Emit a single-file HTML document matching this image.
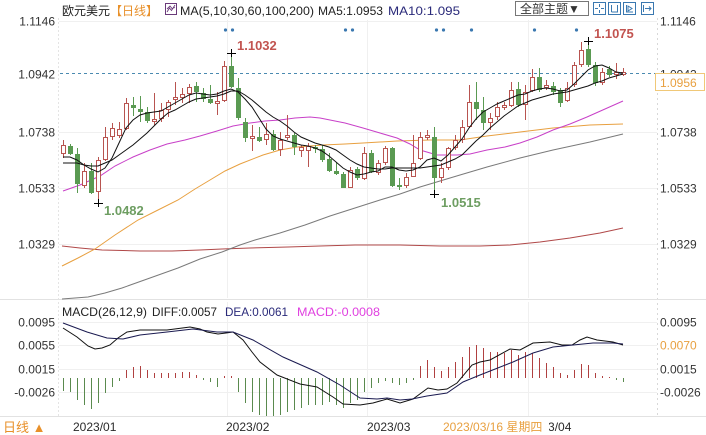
<!DOCTYPE html>
<html><head><meta charset="utf-8"><style>
html,body{margin:0;padding:0;background:#fff;width:706px;height:435px;overflow:hidden}
svg{display:block}
text{font-family:"Liberation Sans","Noto Sans CJK SC",sans-serif;font-size:12px}
</style></head><body>
<svg width="706" height="435" viewBox="0 0 706 435" xmlns="http://www.w3.org/2000/svg">
<rect width="706" height="435" fill="#fff"/>
<!-- grid -->
<g stroke="#f0f0f0" stroke-width="1">
<path d="M59 21.5H657M59 132.5H657M59 188.5H657M59 244.5H657"/>
<path d="M227.5 20V298M367.5 20V298M528.5 20V298M227.5 302V416M367.5 302V416M528.5 302V416"/>
<path d="M59 322.5H657M59 345.5H657M59 369.5H657M59 392.5H657"/>
</g>
<path d="M58.5 18V416" stroke="#e4e4e4" stroke-dasharray="2,2"/>
<path d="M657.5 18V416" stroke="#d8d8d8" stroke-dasharray="2,3"/>
<path d="M0 299.5H706M0 416.5H706" stroke="#e2e2e2"/>
<!-- header -->
<text x="62" y="15" fill="#222">欧元美元</text>
<text x="110" y="15" fill="#e8902a">【日线】</text>
<rect x="165.5" y="3.5" width="11" height="11" fill="#fff" stroke="#6a3a7a"/>
<path d="M167 12L169.5 8L171.5 10.5L175 5M167 9L170 6L172 8.5L175 7.5" stroke="#6a3a7a" fill="none" stroke-width="0.9"/>
<text x="180" y="15" fill="#222" textLength="134" lengthAdjust="spacingAndGlyphs">MA(5,10,30,60,100,200)</text>
<text x="318" y="15" fill="#222" textLength="65" lengthAdjust="spacingAndGlyphs">MA5:1.0953</text>
<text x="388" y="15" fill="#2a2a7a" textLength="72" lengthAdjust="spacingAndGlyphs">MA10:1.095</text>
<!-- top right controls -->
<rect x="515.5" y="1.5" width="73" height="14" fill="#fff" stroke="#777"/>
<text x="520" y="13" fill="#333">全部主题▼</text>
<g stroke="#3a78b0" fill="none">
<rect x="593.5" y="2.5" width="12" height="12"/>
<path d="M599.5 4V7M599.5 10V13M595 8.5H598M601 8.5H604" />
<rect x="608.5" y="2.5" width="12" height="12"/>
<path d="M611.5 5V12M617.5 5V12M611.5 12H618" />
<rect x="623.5" y="2.5" width="12" height="12"/>
<path d="M626.5 5V12H633M628 6L632 8.5L628 11Z" />
<rect x="641.5" y="2.5" width="12" height="12"/>
<path d="M643.5 5V12M645 8.5H651M649 6.5L651 8.5L649 10.5" />
</g>
<!-- y labels main -->
<g fill="#333" text-anchor="end">
<text x="55" y="25.5">1.1146</text>
<text x="55" y="78.5">1.0942</text>
<text x="55" y="136.5">1.0738</text>
<text x="55" y="192.5">1.0533</text>
<text x="55" y="248.5">1.0329</text>
</g>
<g fill="#333">
<text x="660" y="25.5">1.1146</text>
<text x="660" y="78.5">1.0942</text>
<text x="660" y="136.5">1.0738</text>
<text x="660" y="192.5">1.0533</text>
<text x="660" y="248.5">1.0329</text>
</g>
<!-- current price line -->
<path d="M60 73.5H656" stroke="#4a8ab0" stroke-dasharray="3,3"/>
<rect x="655.5" y="73.5" width="49" height="17" fill="#fff" stroke="#f0c878"/>
<text x="660" y="87" fill="#e8a040">1.0956</text>
<!-- blue dots -->
<g fill="#3a78b0">
<circle cx="225.5" cy="30" r="1.6"/><circle cx="232.5" cy="30" r="1.6"/>
<circle cx="345.5" cy="30" r="1.6"/><circle cx="352.5" cy="30" r="1.6"/>
<circle cx="436.5" cy="30" r="1.6"/><circle cx="443.5" cy="30" r="1.6"/>
<circle cx="471.5" cy="30" r="1.6"/><circle cx="534.5" cy="30" r="1.6"/><circle cx="576.5" cy="30" r="1.6"/>
</g>
<!-- long MAs -->
<g fill="none" stroke-width="1">
<polyline stroke="#b04848" points="62,246 80,248 102,250 140,251 172,251 200,250 222,249 250,248 288,247 320,246 355,245 400,245 440,246 480,246 510,245 540,242 570,238 600,233 623,228"/>
<polyline stroke="#7a7a7a" points="62,299 88,297 105,293 122,288 150,278 178,268 200,259 222,252 240,245 255,240 280,233 305,225 330,216 355,208 380,200 400,194 420,187 440,181 460,175 487,167 520,158 553,150 590,142 623,134"/>
<polyline stroke="#e8a040" points="62,266 78,258 95,249 115,235 138,220 158,210 178,200 195,189 210,180 225,171 240,164 263,155 280,150 297,147 323,145 345,144 363,143 397,141 430,140 460,140 487,136 520,132 553,128 590,125 623,124"/>
<polyline stroke="#c840c8" points="63,191 80,185 100,176 115,166 133,157 150,150 167,144 185,140 200,136 217,131 233,126 250,123 265,121 280,120 295,118 310,117 320,118 330,120 345,123 363,128 380,133 397,138 410,144 420,150 437,155 457,155 470,154 487,150 505,147 520,143 537,137 553,130 570,124 587,117 605,109 623,101"/>
</g>
<!-- candles: up -->
<path fill="none" stroke="#b85450" d="M63.5 140V158M84.5 163V188M98.5 157V203M105.5 127V161M112.5 123V140M119.5 122V138M126.5 98V130M154.5 93V125M161.5 103V122M168.5 100V117M175.5 82V105M182.5 88V103M189.5 84V103M217.5 92V115M224.5 61V102M252.5 125V151M266.5 123V145M280.5 132V156M287.5 115V140M301.5 145V157M308.5 143V167M350.5 167V188M364.5 147V180M378.5 160V175M385.5 146V165M406.5 173V188M413.5 135V177M420.5 132V160M427.5 130V140M441.5 163V183M448.5 147V170M455.5 135V150M462.5 120V143M469.5 85V128M490.5 113V130M497.5 102V120M504.5 102V110M511.5 82V107M525.5 85V120M532.5 69V92M546.5 80V90M567.5 82V102M574.5 62V87M581.5 42V67M602.5 68V85M616.5 63V79M623.5 68V76"/>
<g fill="#fff" stroke="#b85450">
<rect x="61.5" y="145.5" width="4" height="8"/><rect x="82.5" y="171.5" width="4" height="14"/><rect x="96.5" y="160.5" width="4" height="31"/><rect x="103.5" y="137.5" width="4" height="22"/><rect x="110.5" y="128.5" width="4" height="8"/><rect x="117.5" y="129.5" width="4" height="6"/><rect x="124.5" y="103.5" width="4" height="25"/><rect x="152.5" y="119.5" width="4" height="2"/><rect x="159.5" y="110.5" width="4" height="8"/><rect x="166.5" y="102.5" width="4" height="7"/><rect x="173.5" y="97.5" width="4" height="2"/><rect x="180.5" y="94.5" width="4" height="3"/><rect x="187.5" y="87.5" width="4" height="6"/><rect x="215.5" y="101.5" width="4" height="2"/><rect x="222.5" y="66.5" width="4" height="34"/><rect x="250.5" y="136.5" width="4" height="2"/><rect x="264.5" y="134.5" width="4" height="5"/><rect x="278.5" y="140.5" width="4" height="9"/><rect x="285.5" y="135.5" width="4" height="2"/><rect x="299.5" y="147.5" width="4" height="3"/><rect x="306.5" y="146.5" width="4" height="4"/><rect x="348.5" y="170.5" width="4" height="17"/><rect x="362.5" y="153.5" width="4" height="25"/><rect x="376.5" y="163.5" width="4" height="9"/><rect x="383.5" y="148.5" width="4" height="14"/><rect x="404.5" y="177.5" width="4" height="8"/><rect x="411.5" y="163.5" width="4" height="13"/><rect x="418.5" y="137.5" width="4" height="21"/><rect x="425.5" y="135.5" width="4" height="2"/><rect x="439.5" y="168.5" width="4" height="9"/><rect x="446.5" y="148.5" width="4" height="19"/><rect x="453.5" y="140.5" width="4" height="7"/><rect x="460.5" y="127.5" width="4" height="12"/><rect x="467.5" y="102.5" width="4" height="24"/><rect x="488.5" y="118.5" width="4" height="4"/><rect x="495.5" y="107.5" width="4" height="9"/><rect x="502.5" y="105.5" width="4" height="2"/><rect x="509.5" y="90.5" width="4" height="15"/><rect x="523.5" y="92.5" width="4" height="12"/><rect x="530.5" y="77.5" width="4" height="13"/><rect x="544.5" y="85.5" width="4" height="2"/><rect x="565.5" y="88.5" width="4" height="12"/><rect x="572.5" y="65.5" width="4" height="19"/><rect x="579.5" y="50.5" width="4" height="14"/><rect x="600.5" y="72.5" width="4" height="10"/><rect x="614.5" y="72.5" width="4" height="2"/><rect x="621.5" y="72.5" width="4" height="2"/>
</g>
<!-- candles: down -->
<path fill="none" stroke="#5a9a52" d="M70.5 144V155M77.5 148V193M91.5 163V194M133.5 97V116M140.5 96V122M147.5 107V123M196.5 82V102M203.5 88V102M210.5 85V104M231.5 53V88M238.5 78V120M245.5 118V142M259.5 127V142M273.5 130V151M294.5 133V155M315.5 145V153M322.5 145V162M329.5 153V172M336.5 162V175M343.5 172V188M357.5 167V180M371.5 150V173M392.5 147V187M399.5 178V190M434.5 127V194M476.5 82V120M483.5 97V130M518.5 82V107M539.5 68V92M553.5 82V95M560.5 88V107M588.5 41V67M595.5 62V86M609.5 66V77"/>
<g fill="#5a9a52">
<rect x="68" y="146" width="5" height="8"/><rect x="75" y="154" width="5" height="30"/><rect x="89" y="171" width="5" height="22"/><rect x="131" y="105" width="5" height="3"/><rect x="138" y="109" width="5" height="3"/><rect x="145" y="112" width="5" height="9"/><rect x="194" y="86" width="5" height="6"/><rect x="201" y="93" width="5" height="6"/><rect x="208" y="99" width="5" height="4"/><rect x="229" y="66" width="5" height="21"/><rect x="236" y="88" width="5" height="30"/><rect x="243" y="122" width="5" height="16"/><rect x="257" y="137" width="5" height="4"/><rect x="271" y="134" width="5" height="16"/><rect x="292" y="135" width="5" height="12"/><rect x="313" y="147" width="5" height="2"/><rect x="320" y="149" width="5" height="11"/><rect x="327" y="159" width="5" height="12"/><rect x="334" y="171" width="5" height="3"/><rect x="341" y="174" width="5" height="14"/><rect x="355" y="169" width="5" height="9"/><rect x="369" y="153" width="5" height="19"/><rect x="390" y="148" width="5" height="38"/><rect x="397" y="185" width="5" height="2"/><rect x="432" y="137" width="5" height="41"/><rect x="474" y="102" width="5" height="7"/><rect x="481" y="110" width="5" height="13"/><rect x="516" y="89" width="5" height="16"/><rect x="537" y="77" width="5" height="13"/><rect x="551" y="86" width="5" height="6"/><rect x="558" y="90" width="5" height="13"/><rect x="586" y="49" width="5" height="16"/><rect x="593" y="65" width="5" height="18"/><rect x="607" y="69" width="5" height="6"/>
</g>
<!-- MA5 / MA10 -->
<g fill="none" stroke="#111" stroke-width="1">
<polyline points="63,157 70,157 77,160 84,165 91,169 98,172 105,168 112,158 119,143 126,128 133,120 140,115 147,113 154,112 161,111 168,107 175,103 182,99 189,95 196,93 203,94 210,95 217,94 224,91 231,89 238,92 245,99 252,107 259,118 266,129 273,136 280,139 287,141 294,143 301,145 308,146 315,148 322,151 329,156 336,162 343,168 350,172 357,175 364,174 371,172 378,171 385,167 392,167 399,170 406,171 413,170 420,167 427,160 434,158 441,161 448,155 455,147 462,139 469,128 476,119 483,112 490,108 497,104 504,101 511,98 518,95 525,94 532,91 539,89 546,88 553,89 560,91 567,90 574,84 581,77 588,70 595,66 602,65 609,68 616,72 623,73"/>
<polyline points="63,163 70,163 77,163 84,165 91,166 98,166 105,163 112,160 119,155 126,150 133,145 140,139 147,133 154,126 161,119 168,113 175,110 182,106 189,102 196,99 203,98 210,97 217,96 224,94 231,91 238,91 245,95 252,100 259,106 266,112 273,117 280,121 287,126 294,132 301,137 308,140 315,143 322,145 329,147 336,150 343,155 350,160 357,164 364,167 371,168 378,169 385,169 392,168 399,168 406,168 413,168 420,168 427,167 434,166 441,165 448,162 455,159 462,155 469,148 476,141 483,135 490,128 497,122 504,116 511,111 518,106 525,103 532,100 539,98 546,96 553,94 560,93 567,92 574,90 581,88 588,86 595,83 602,81 609,78 616,76 623,74"/>
</g>
<!-- extreme markers -->
<path stroke="#000" fill="none" d="M94 203.5H103M98.5 199V207M227 53.5H236M231.5 49V57M584 41.5H593M588.5 37V45M430 194.5H439M434.5 190V198"/>
<g font-weight="bold" font-size="13">
<text x="237" y="50" fill="#c25450" style="font-size:13px">1.1032</text>
<text x="594" y="38" fill="#c25450" style="font-size:13px">1.1075</text>
<text x="104" y="215" fill="#6e9e62" style="font-size:13px">1.0482</text>
<text x="441" y="207" fill="#6e9e62" style="font-size:13px">1.0515</text>
</g>
<!-- MACD panel -->
<text x="62" y="316" fill="#222" textLength="85" lengthAdjust="spacingAndGlyphs">MACD(26,12,9)</text>
<text x="152" y="316" fill="#222" textLength="65" lengthAdjust="spacingAndGlyphs">DIFF:0.0057</text>
<text x="225" y="316" fill="#2a2a7a" textLength="63" lengthAdjust="spacingAndGlyphs">DEA:0.0061</text>
<text x="297" y="316" fill="#e040e0" textLength="83" lengthAdjust="spacingAndGlyphs">MACD:-0.0008</text>
<g fill="#333" text-anchor="end">
<text x="55" y="326.5">0.0095</text>
<text x="55" y="349.5">0.0055</text>
<text x="55" y="373.5">0.0015</text>
<text x="55" y="396.5">-0.0026</text>
</g>
<g fill="#333">
<text x="660" y="326.5">0.0095</text>
<text x="660" y="349.5" fill="#e8a040">0.0070</text>
<text x="660" y="373.5">0.0015</text>
<text x="660" y="396.5">-0.0026</text>
</g>
<path fill="none" stroke="#b04040" d="M126.5 378V370M133.5 378V367M140.5 378V366M147.5 378V370M154.5 378V373M161.5 378V373M168.5 378V373M175.5 378V373M182.5 378V372M189.5 378V372M196.5 378V375M224.5 378V376M231.5 378V376M420.5 378V366M427.5 378V360M434.5 378V367M441.5 378V371M448.5 378V367M455.5 378V362M462.5 378V357M469.5 378V347M476.5 378V345M483.5 378V348M490.5 378V352M497.5 378V352M504.5 378V353M511.5 378V350M518.5 378V355M525.5 378V352M532.5 378V353M539.5 378V358M546.5 378V363M553.5 378V367M560.5 378V373M567.5 378V375M574.5 378V370M581.5 378V364M588.5 378V365M595.5 378V373M602.5 378V376M609.5 378V377"/>
<path fill="none" stroke="#5a8a4e" d="M63.5 378V391M70.5 378V392M77.5 378V400M84.5 378V405M91.5 378V409M98.5 378V403M105.5 378V393M112.5 378V387M119.5 378V381M203.5 378V380M210.5 378V382M217.5 378V387M238.5 378V392M245.5 378V403M252.5 378V412M259.5 378V415M266.5 378V416M273.5 378V416M280.5 378V415M287.5 378V412M294.5 378V410M301.5 378V408M308.5 378V405M315.5 378V405M322.5 378V405M329.5 378V402M336.5 378V405M343.5 378V408M350.5 378V403M357.5 378V400M364.5 378V392M371.5 378V388M378.5 378V383M385.5 378V381M392.5 378V383M399.5 378V385M406.5 378V383M413.5 378V380M616.5 378V380M623.5 378V382"/>
<g fill="none" stroke-width="1">
<polyline stroke="#111" points="63,328 77,337 88,346 95,349 102,348 110,345 118,338 127,332 140,330 167,330 190,327 200,329 207,332 218,334 226,333 233,332 243,340 252,352 260,362 277,375 300,384 317,387 333,397 343,404 360,405 373,403 387,399 400,403 413,399 428,388 438,390 447,389 457,383 472,365 480,362 490,360 510,349 520,350 533,343 550,342 562,345 572,345 580,340 587,337 597,340 613,342 623,345"/>
<polyline stroke="#1a1a50" points="63,323 87,332 107,338 123,339 140,335 167,332 193,329 217,332 233,332 253,340 283,357 317,372 340,385 360,398 377,399 387,398 400,400 412,399 427,396 447,393 463,382 480,375 513,362 533,353 553,347 573,345 593,343 613,343 623,344"/>
</g>
<!-- x axis -->
<g fill="#2a2a2a">
<text x="73" y="431">2023/01</text>
<text x="226" y="431">2023/02</text>
<text x="367" y="431">2023/03</text>
<text x="528" y="431">2023/04</text>
</g>
<rect x="441" y="419" width="108" height="15" fill="#fff"/>
<text x="443" y="431" fill="#e8a040">2023/03/16 星期四</text>
<text x="3" y="432" fill="#e8902a" style="font-size:13px">日线 ▲</text>
</svg>
</body></html>
